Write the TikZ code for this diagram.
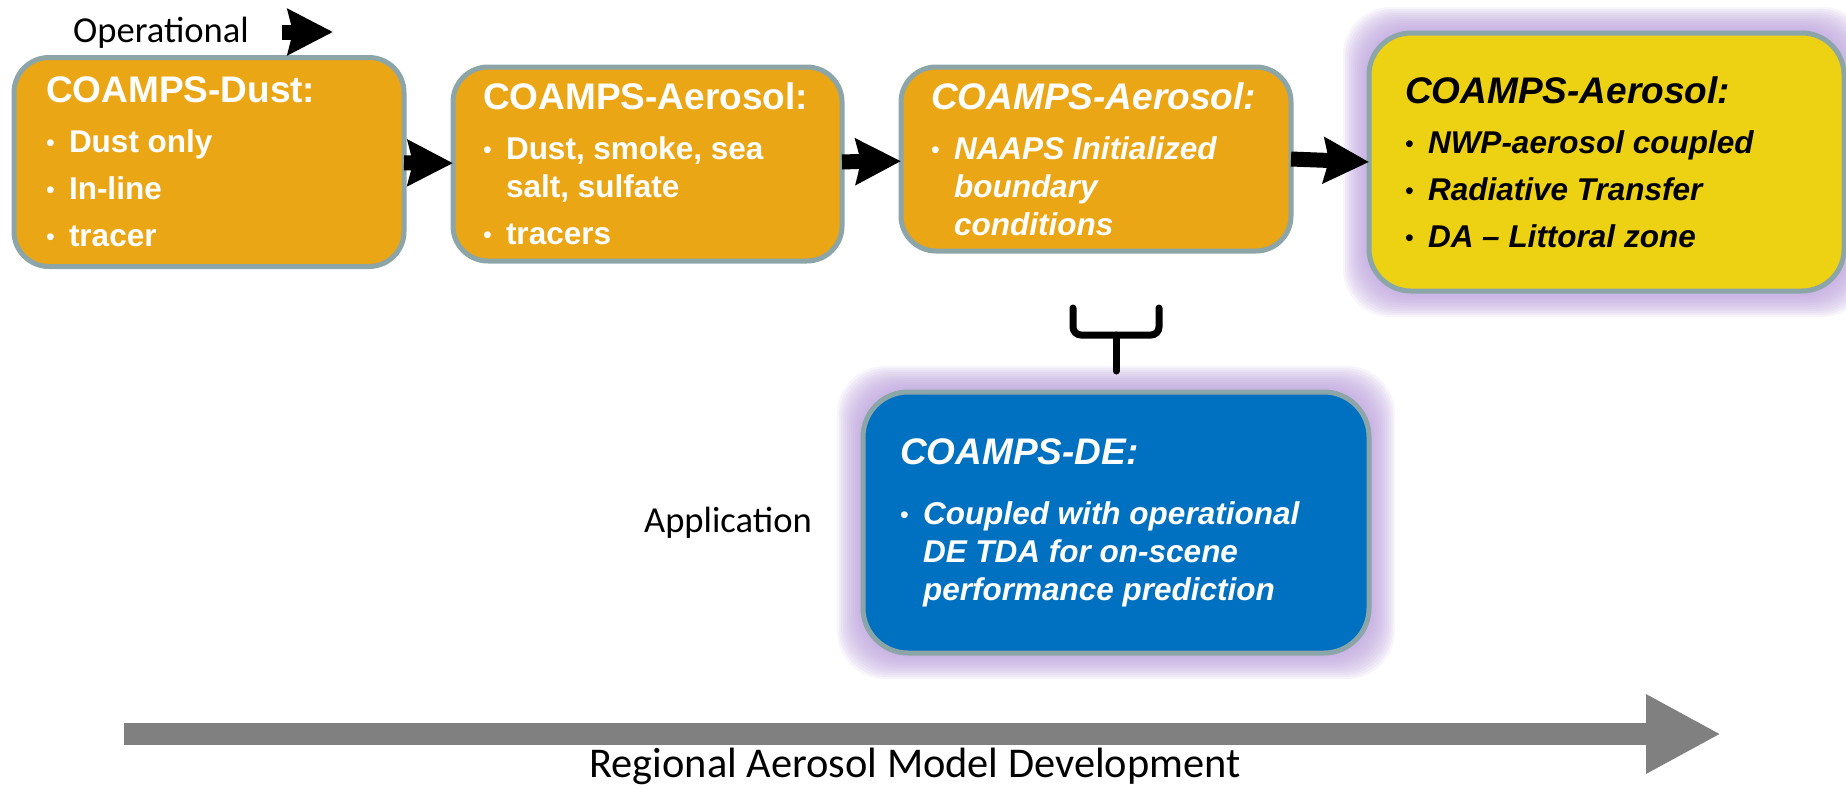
\documentclass[tikz,border=0pt]{standalone}
\usepackage{fontspec}
\setmainfont{Liberation Sans}
\newfontfamily\capfont{Carlito}
\usetikzlibrary{arrows.meta, positioning, backgrounds}

\definecolor{stageorange}{RGB}{235,166,22}
\definecolor{stageyellow}{RGB}{237,210,20}
\definecolor{stageblue}{RGB}{0,112,192}
\definecolor{stageedge}{RGB}{139,165,168}
\definecolor{glowpurple}{RGB}{188,162,220}
\definecolor{trackgray}{RGB}{128,128,128}

\newcommand{\boxhead}[1]{{\fontsize{37}{44}\selectfont\spaceskip=0pt\xspaceskip=0pt #1\par}\vspace{3pt}}
\newcommand{\boxitem}[1]{\vspace{9pt}{\fontsize{31.5}{38}\selectfont\spaceskip=0pt\xspaceskip=0pt\hangindent=23pt\hangafter=1\noindent\makebox[23pt][l]{\raisebox{1pt}{\fontsize{25}{25}\selectfont\mdseries\upshape\textbullet}}#1\par}}

\tikzstyle{stage} = [rectangle, rounded corners=35pt, draw=stageedge, line width=5pt, fill=stageorange, text=white, font=\bfseries, align=flush left, inner xsep=32pt, inner ysep=0pt, outer sep=0pt]
\tikzstyle{caption} = [font=\capfont\fontsize{36.6}{40}\selectfont, inner sep=0pt]
\tikzstyle{arrow} = [line width=15pt, -{Stealth[length=45pt, width=45pt, inset=5pt]}]
\tikzstyle{track} = [line width=22pt, draw=trackgray, -{Triangle[length=75pt, width=74pt]}]
\tikzstyle{bracket} = [line width=7pt, rounded corners=8pt, line cap=round]

\begin{document}
\begin{tikzpicture}[x=1pt, y=-1pt]
\useasboundingbox (0,0) rectangle (1846,788);

% Model stages - top row
\node (dust) [stage, text width=326pt, minimum height=209pt] at (209,162) {\boxhead{COAMPS-Dust:}\boxitem{Dust only}\boxitem{In-line}\boxitem{tracer}};
\node (aerosol) [stage, text width=329pt, inner xsep=30pt, minimum height=194pt, right=49pt of dust, yshift=-2pt] {\boxhead{COAMPS-Aerosol:}\boxitem{Dust, smoke, sea\newline salt, sulfate}\boxitem{tracers}};
\node (naaps) [stage, font=\bfseries\itshape, text width=330pt, inner xsep=30pt, minimum height=184pt, right=59pt of aerosol, yshift=5pt] {\boxhead{COAMPS-Aerosol:}\boxitem{NAAPS Initialized\newline boundary\newline conditions}};
\node (coupled) [stage, fill=stageyellow, text=black, font=\bfseries\itshape, rounded corners=42pt, text width=403pt, inner xsep=36pt, minimum height=258pt, right=78pt of naaps, yshift=-3pt] {\boxhead{COAMPS-Aerosol:}\boxitem{NWP-aerosol coupled}\boxitem{Radiative Transfer}\boxitem{DA -- Littoral zone}};

% Application branch
\node (de) [stage, fill=stageblue, font=\bfseries\itshape, rounded corners=45pt, text width=432pt, inner xsep=37pt, minimum height=261pt, below=141pt of naaps, xshift=20pt] {\vspace*{10pt}\boxhead{COAMPS-DE:}\boxitem{Coupled with operational\newline DE TDA for on-scene\newline performance prediction}};
\node (application) [caption, left=51pt of de] {Application};

% Purple glow behind the two highlighted boxes
\begin{scope}[on background layer]
\foreach \n in {coupled, de}
  \foreach \g in {2,4,...,26}
    \fill [glowpurple, fill opacity=0.12, rounded corners=48pt] ([shift={(-\g,-\g)}]\n.north west) rectangle ([shift={(\g,\g)}]\n.south east);
\end{scope}

% Labels
\node (operational) [caption] at (161,33) {Operational};
\coordinate (opstart) at (282,32);
\coordinate (opend) at (333,32);

% Arrows between stages
\draw [arrow] (opstart) -- (opend);
\draw [arrow] (dust) -- (aerosol);
\draw [arrow] (aerosol) -- (naaps);
\draw [arrow] (naaps.east) -- (coupled.west);

% Brace over the application box
\coordinate [above=21pt of de] (stembot);
\draw [bracket] (stembot) ++(-43,-63) -- ++(0,27) -- ++(86,0) -- ++(0,-27);
\draw [bracket] (stembot) -- ++(0,-36);

% Timeline arrow
\coordinate (trackstart) at (124,734);
\coordinate (trackend) at (1721,734);
\draw [track] (trackstart) -- (trackend);
\node (tracklabel) [caption, font=\capfont\fontsize{42.4}{46}\selectfont, anchor=base] at (915,777) {Regional Aerosol Model Development};

\end{tikzpicture}
\end{document}
